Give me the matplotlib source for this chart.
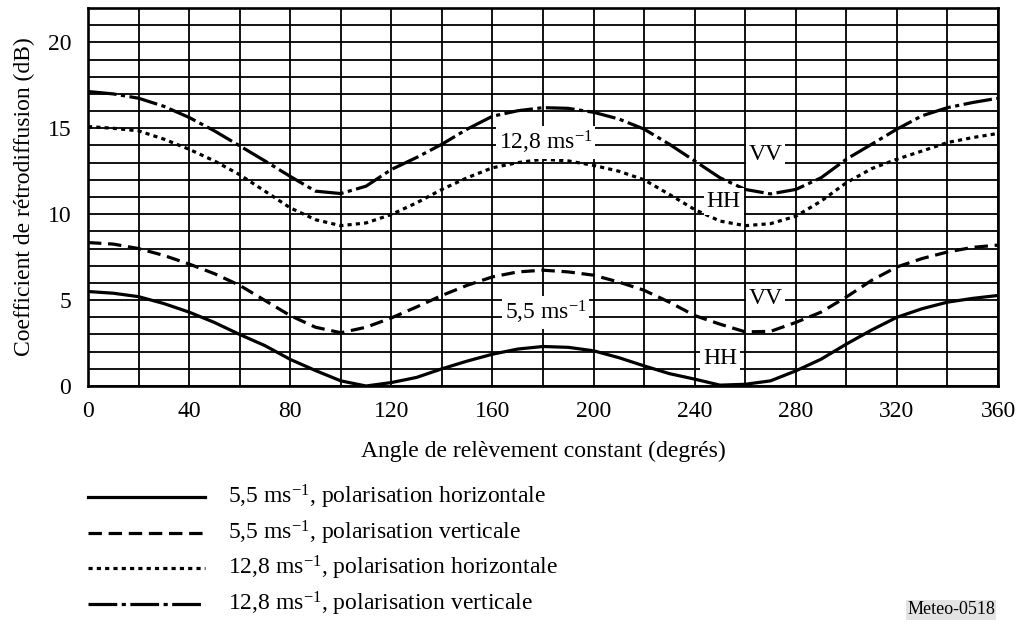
import matplotlib
matplotlib.use("Agg")
import matplotlib.pyplot as plt
from matplotlib.lines import Line2D

plt.rcParams["font.family"] = ["Liberation Serif", "DejaVu Serif"]
plt.rcParams["mathtext.fontset"] = "custom"
plt.rcParams["mathtext.rm"] = "Liberation Serif"
plt.rcParams["mathtext.it"] = "Liberation Serif:italic"

# angle de relevement (degres), pas de 10
angles = list(range(0, 361, 10))

# 5,5 m/s, polarisation horizontale
hh_55 = [5.5, 5.4, 5.2, 4.8, 4.3, 3.7, 3.0, 2.35, 1.55, 0.9, 0.3, 0.0, 0.2, 0.5, 1.0, 1.45,
         1.85, 2.15, 2.3, 2.25, 2.05, 1.65, 1.17, 0.72, 0.4, 0.05, 0.1, 0.3, 0.88, 1.56,
         2.44, 3.26, 4.0, 4.5, 4.88, 5.1, 5.27]
# 5,5 m/s, polarisation verticale
vv_55 = [8.35, 8.26, 8.0, 7.6, 7.1, 6.54, 5.86, 4.98, 4.1, 3.42, 3.1, 3.42, 3.96, 4.6, 5.27,
         5.86, 6.35, 6.64, 6.74, 6.64, 6.45, 6.05, 5.57, 4.88, 4.1, 3.6, 3.15, 3.18, 3.7,
         4.3, 5.18, 6.15, 6.93, 7.42, 7.8, 8.07, 8.2]
# 12,8 m/s, polarisation horizontale
hh_128 = [15.1, 15.0, 14.85, 14.37, 13.78, 13.1, 12.3, 11.34, 10.37, 9.68, 9.33, 9.49, 9.98,
          10.66, 11.44, 12.12, 12.7, 13.0, 13.2, 13.1, 12.84, 12.5, 12.0, 11.15, 10.27, 9.6,
          9.33, 9.45, 9.88, 10.76, 11.83, 12.65, 13.2, 13.68, 14.17, 14.46, 14.7]
# 12,8 m/s, polarisation verticale
vv_128 = [17.14, 17.0, 16.75, 16.28, 15.63, 14.85, 13.98, 13.1, 12.2, 11.34, 11.2, 11.63, 12.6,
          13.3, 14.07, 14.95, 15.7, 16.02, 16.2, 16.16, 15.93, 15.54, 14.95, 14.07, 13.1, 12.12,
          11.44, 11.18, 11.44, 12.12, 13.2, 14.07, 14.95, 15.73, 16.2, 16.5, 16.75]

legend_labels = [
    "5,5 ms$^{\\mathrm{-1}}$, polarisation horizontale",
    "5,5 ms$^{\\mathrm{-1}}$, polarisation verticale",
    "12,8 ms$^{\\mathrm{-1}}$, polarisation horizontale",
    "12,8 ms$^{\\mathrm{-1}}$, polarisation verticale",
]

lw = 2.3
fs = 17
styles = ["-", (0, (4.2, 2.1)), (0, (1.3, 1.3)), (0, (9, 1.4, 1.3, 1.4))]
series = [hh_55, vv_55, hh_128, vv_128]

fig = plt.figure(figsize=(10.18, 6.25), dpi=100)
ax = fig.add_axes([0.0864, 0.3824, 0.894, 0.6048])

for vals, ls in zip(series, styles):
    ax.plot(angles, vals, color="black", lw=lw, linestyle=ls, zorder=3)

ax.set_xlim(0, 360)
ax.set_ylim(0, 22)
ax.set_xticks(range(0, 361, 20), minor=True)
ax.set_yticks(range(0, 23), minor=True)
ax.set_xticks(range(0, 361, 40))
ax.set_yticks(range(0, 21, 5))
ax.grid(True, which="both", color="black", lw=1.3)
ax.set_axisbelow(True)
ax.tick_params(which="both", length=0, labelsize=fs)
ax.tick_params(axis="x", pad=11)
ax.tick_params(axis="y", pad=12)
for s in ax.spines.values():
    s.set_linewidth(1.9)

ax.set_xlabel("Angle de relèvement constant (degrés)", fontsize=fs, labelpad=13)
ax.set_ylabel("Coefficient de rétrodiffusion (dB)", fontsize=fs, labelpad=9)

box = dict(facecolor="white", edgecolor="none", pad=2)
ax.text(181, 14.15, "12,8 ms$^{\\mathrm{-1}}$", fontsize=fs, ha="center", va="center", bbox=box, zorder=4)
ax.text(268, 13.5, "VV", fontsize=fs, ha="center", va="center", bbox=box, zorder=4)
ax.text(251.5, 10.75, "HH", fontsize=fs, ha="center", va="center", bbox=box, zorder=4)
ax.text(181, 4.27, "5,5 ms$^{\\mathrm{-1}}$", fontsize=fs, ha="center", va="center", bbox=box, zorder=4)
ax.text(268, 5.1, "VV", fontsize=fs, ha="center", va="center", bbox=box, zorder=4)
ax.text(250, 1.6, "HH", fontsize=fs, ha="center", va="center", bbox=box, zorder=4)

# legende sous le graphique
rows_y = [497, 533, 568, 604]
for y, ls, lab in zip(rows_y, styles, legend_labels):
    fy = 1 - y / 625
    fig.add_artist(Line2D([88 / 1018, 205 / 1018], [fy, fy], color="black", lw=lw, linestyle=ls))
    fig.text(228 / 1018, fy, lab, fontsize=fs, va="center", ha="left")

fig.text(995 / 1018, 1 - 610 / 625, "Meteo-0518", fontsize=13, ha="right", va="center",
         bbox=dict(facecolor="#e3e3e3", edgecolor="none", pad=1))

fig.savefig("out.png", dpi=100)
